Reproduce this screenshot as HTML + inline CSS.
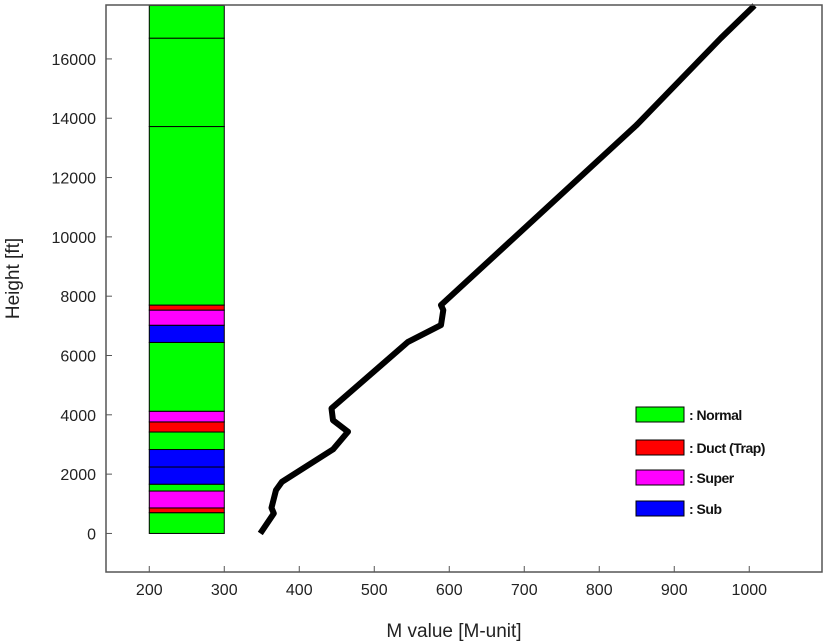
<!DOCTYPE html>
<html><head><meta charset="utf-8"><style>
html,body{margin:0;padding:0;background:#fff;}
svg{display:block;font-family:"Liberation Sans",sans-serif;}
</style></head><body>
<svg id="chart" width="827" height="643" viewBox="0 0 827 643" xmlns="http://www.w3.org/2000/svg">
<g id="layers"></g>
<g id="series"></g>
<g id="axes"></g>
<g id="legend"></g>
</svg>
<script>
const xTicks = [200,300,400,500,600,700,800,900,1000];
const yTicks = [0,2000,4000,6000,8000,10000,12000,14000,16000];
const layerBounds = [0,700,860,1430,1660,2240,2830,3420,3760,4120,6440,7020,7530,7700,13720,16700,17800];
const layerTypes = ["Normal","Duct (Trap)","Super","Normal","Sub","Sub","Normal","Duct (Trap)","Super","Normal","Sub","Super","Duct (Trap)","Normal","Normal","Normal"];
const mValues = [348,366,363,369,377,445,465,445,443,545,589,592,589,849,962,1007];
const heights = [0,675,863,1460,1740,2833,3430,3820,4215,6460,7025,7530,7700,13750,16700,17800];
const legendLabels = ["Normal","Duct (Trap)","Super","Sub"];
const colors = {"Normal":"#00ff00","Duct (Trap)":"#ff0000","Super":"#ff00ff","Sub":"#0000ff"};

const NS="http://www.w3.org/2000/svg";
const L=106,R=822,T=5,B=572;
const xMin=142.3,xMax=1097,yMin=-1300,yMax=17818;
function xs(v){return L+(v-xMin)/(xMax-xMin)*(R-L);}
function ys(v){return B-(v-yMin)/(yMax-yMin)*(B-T);}
function mk(tag,attrs,parent){const e=document.createElementNS(NS,tag);for(const k in attrs)e.setAttribute(k,attrs[k]);parent.appendChild(e);return e;}

const layers=document.getElementById('layers');
for(let i=0;i<layerTypes.length;i++){
  const y1=ys(layerBounds[i+1]),y0=ys(layerBounds[i]);
  const r=mk('rect',{x:xs(200),y:y1,width:xs(300)-xs(200),height:y0-y1,fill:colors[layerTypes[i]],stroke:'#000','stroke-width':1},layers);
  
  
}

const series=document.getElementById('series');
let d='';
for(let i=0;i<mValues.length;i++){d+=(i?'L':'M')+xs(mValues[i]).toFixed(1)+' '+ys(heights[i]).toFixed(1);}
const p=mk('path',{d:d,fill:'none',stroke:'#000','stroke-width':6,'stroke-linejoin':'round'},series);



const axes=document.getElementById('axes');
const box=mk('rect',{x:L,y:T,width:R-L,height:B-T,fill:'none',stroke:'#555','stroke-width':1.5},axes);


xTicks.forEach(v=>{
  const x=xs(v);
  const t=mk('line',{x1:x,y1:B,x2:x,y2:B-6,stroke:'#555','stroke-width':1},axes);
  
  
  const tx=mk('text',{x:x,y:B+23,'text-anchor':'middle','font-size':16,fill:'#222'},axes);
  tx.textContent=v;
  
  
});
yTicks.forEach(v=>{
  const y=ys(v);
  const t=mk('line',{x1:L,y1:y,x2:L+6,y2:y,stroke:'#555','stroke-width':1},axes);
  
  
  const tx=mk('text',{x:96,y:y+6,'text-anchor':'end','font-size':16,fill:'#222'},axes);
  tx.textContent=v;
  
  
});
const xt=mk('text',{x:(L+R)/2-10,y:637,'text-anchor':'middle','font-size':19,fill:'#222'},axes);
xt.textContent='M value [M-unit]';


const yt=mk('text',{x:0,y:0,'text-anchor':'middle','font-size':19,fill:'#222',transform:'translate(19,'+((T+B)/2-10)+') rotate(-90)'},axes);
yt.textContent='Height [ft]';



const legend=document.getElementById('legend');
const rowsY=[407,440,470,501];
legendLabels.forEach((lab,i)=>{
  const r=mk('rect',{x:636,y:rowsY[i],width:48,height:15,fill:colors[lab],stroke:'#000','stroke-width':1},legend);
  
  
  const t=mk('text',{x:689,y:rowsY[i]+13,'font-size':14,'font-weight':'bold',fill:'#111','letter-spacing':'-0.5'},legend);
  t.textContent=': '+lab;
  
  
});
</script>
</body></html>
